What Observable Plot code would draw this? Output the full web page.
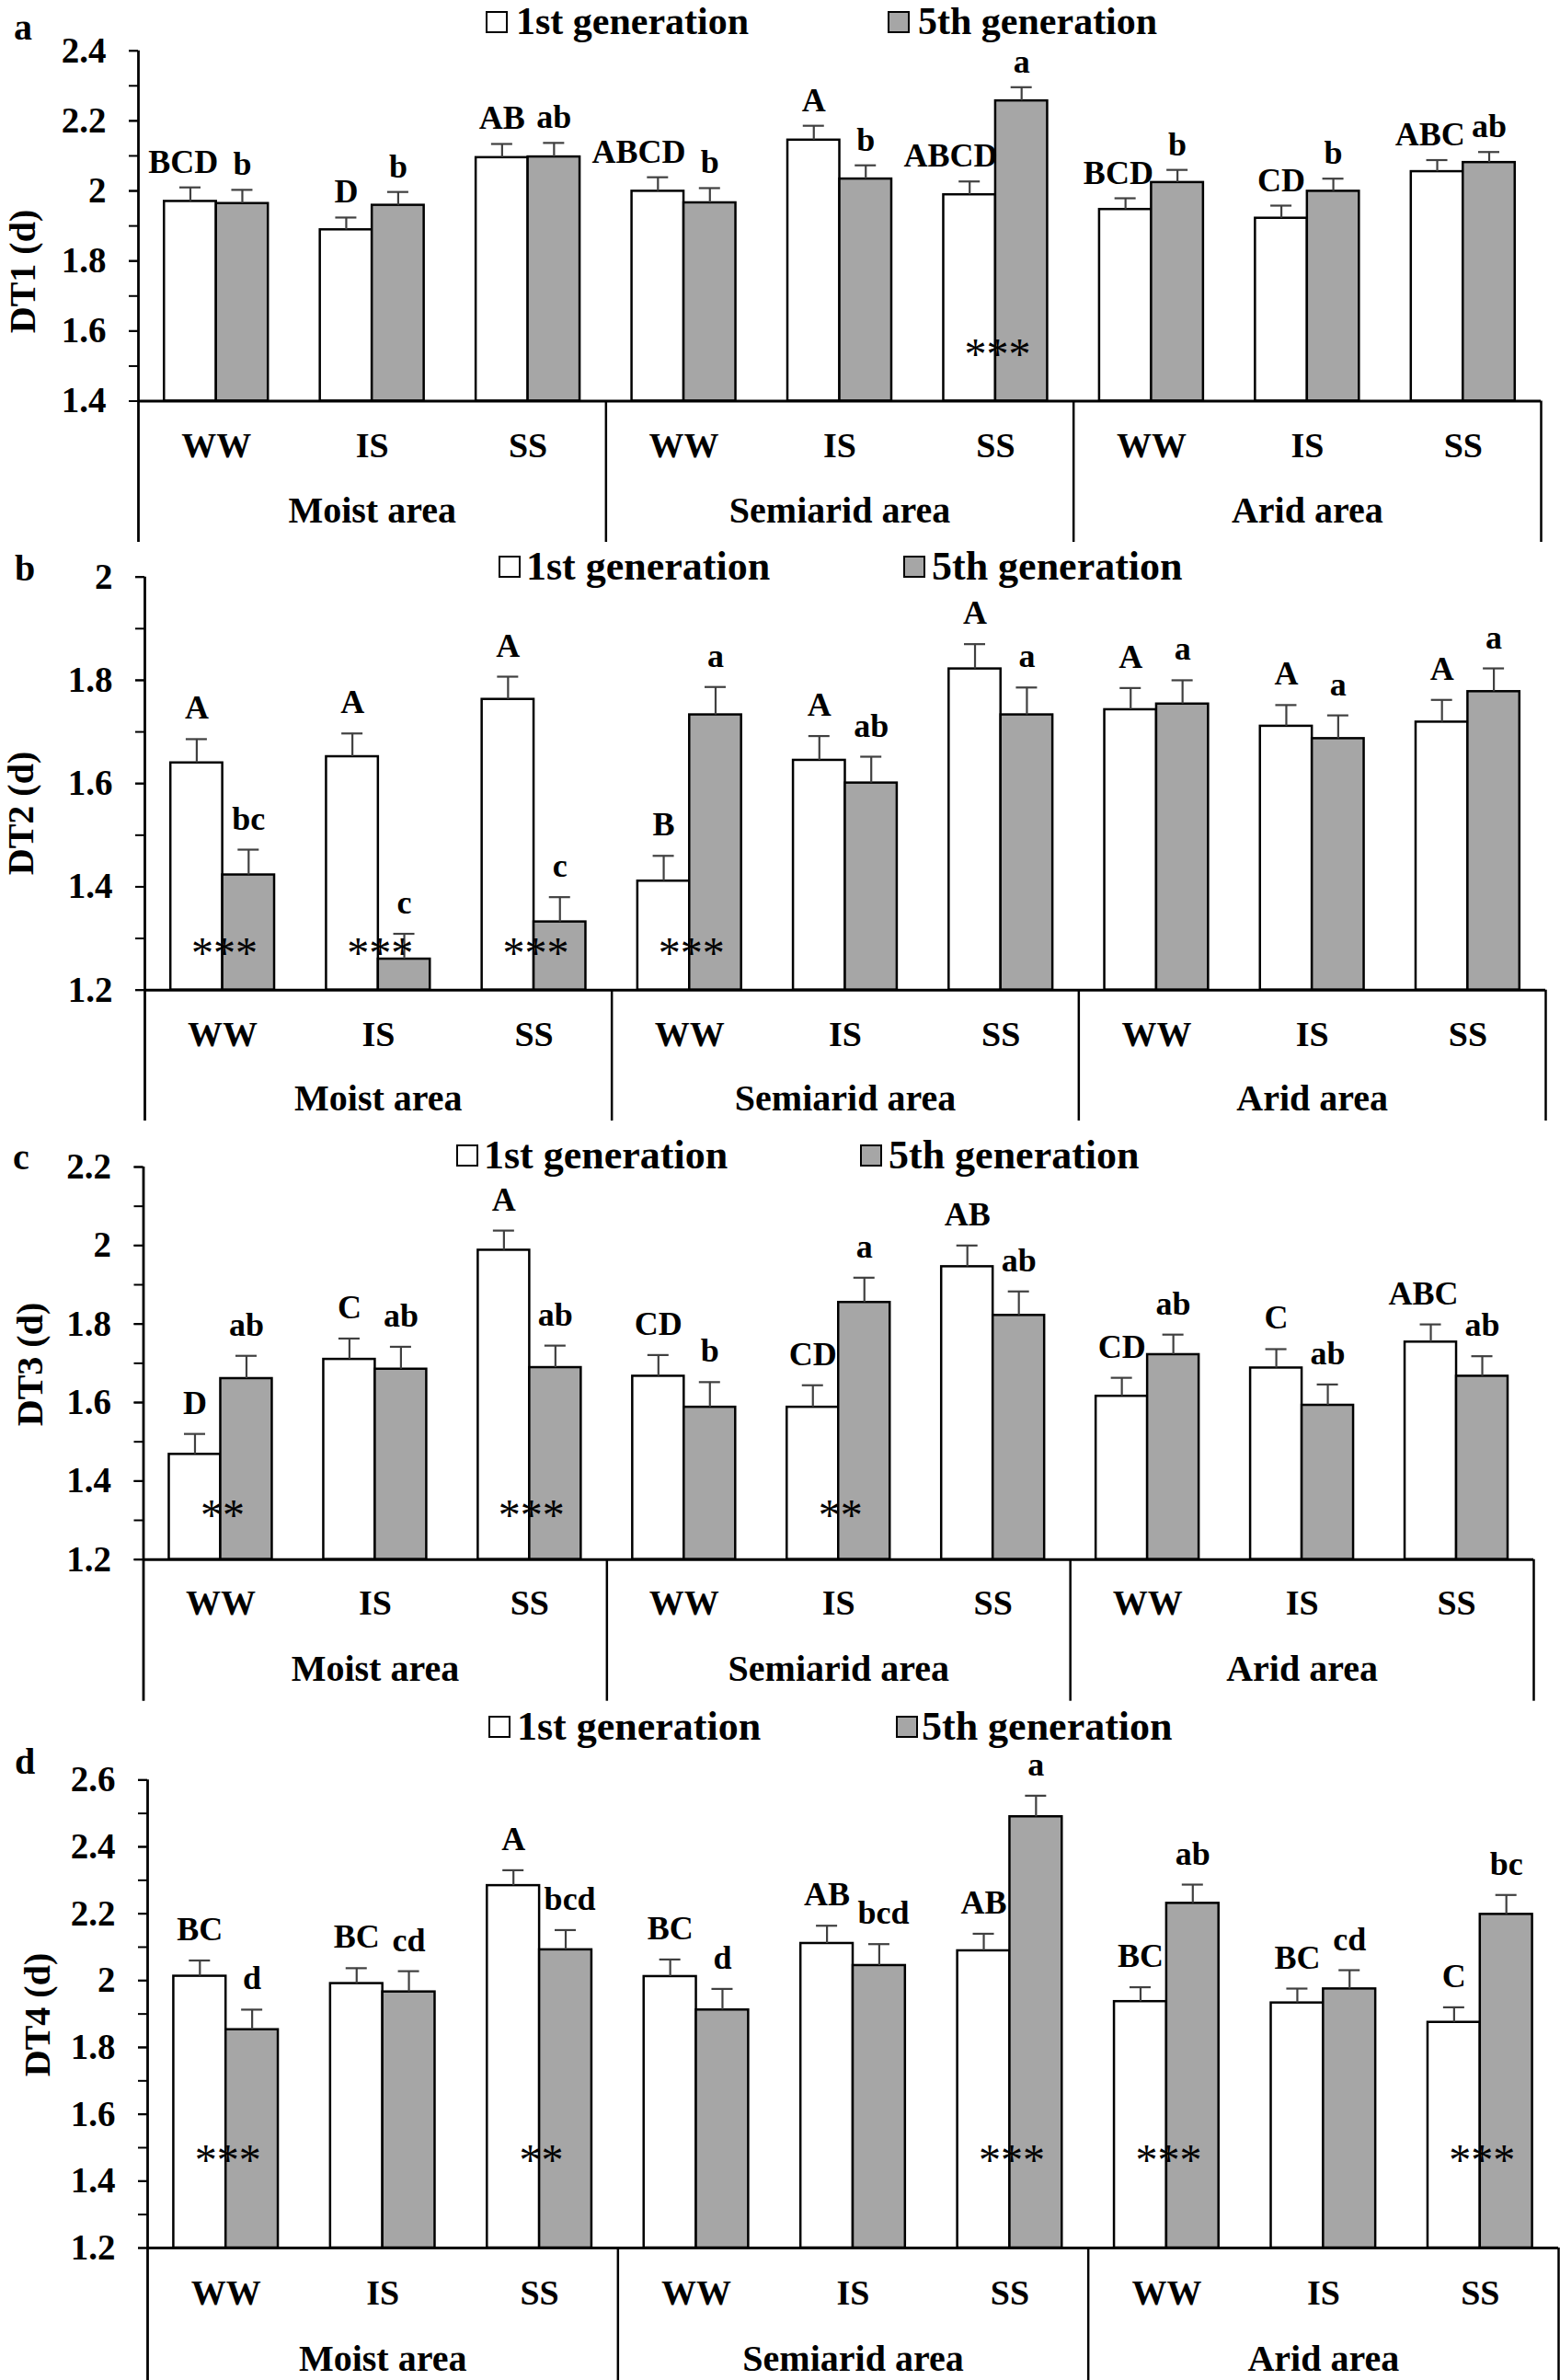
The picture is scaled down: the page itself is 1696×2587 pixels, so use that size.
<!DOCTYPE html>
<html>
<head>
<meta charset="utf-8">
<script src="https://cdn.jsdelivr.net/npm/d3@7"></script>
<script src="https://cdn.jsdelivr.net/npm/@observablehq/plot@0.6"></script>
<style>
html, body { margin: 0; padding: 0; background: #fff; }
#root { position: relative; width: 1696px; height: 2587px; overflow: hidden;
  font-family: 'Liberation Serif', 'Times New Roman', serif; font-weight: bold; color: #000; }
.panel { position: absolute; left: 0; width: 1696px; }
.panel svg { position: absolute; left: 0; top: 0; overflow: visible; }
.abs { position: absolute; white-space: nowrap; line-height: 0.75; }
.ytitle { position: absolute; white-space: nowrap; line-height: 0.75; transform-origin: 0 0;
  transform: rotate(-90deg) translate(-50%, -50%); }
.box { position: absolute; width: 24px; height: 24px; box-sizing: border-box; border: 2.5px solid #000; }
g[aria-label="stars"] text { letter-spacing: 4px; }
</style>
</head>
<body>
<div id="root"></div>
<script>
// ---------- categories ----------
const areas = ["Moist area", "Semiarid area", "Arid area"];
const treatments = ["WW", "IS", "SS"];
const generations = ["1st generation", "5th generation"];
const panelLetters = ["a", "b", "c", "d"];
const yTitles = ["DT1 (d)", "DT2 (d)", "DT3 (d)", "DT4 (d)"];
const yDomains = [[1.4, 2.4], [1.2, 2.0], [1.2, 2.2], [1.2, 2.6]];

// ---------- DT1 ----------
const dt1Gen1 = [1.970, 1.889, 2.095, 1.999, 2.145, 1.989, 1.947, 1.922, 2.055];
const dt1Gen1SE = [0.040, 0.035, 0.039, 0.040, 0.041, 0.038, 0.032, 0.036, 0.033];
const dt1Gen5 = [1.964, 1.959, 2.097, 1.966, 2.034, 2.257, 2.024, 1.999, 2.081];
const dt1Gen5SE = [0.039, 0.038, 0.040, 0.042, 0.039, 0.039, 0.036, 0.036, 0.030];
const dt1Let1 = ["BCD", "D", "AB", "ABCD", "A", "ABCD", "BCD", "CD", "ABC"];
const dt1Let5 = ["b", "b", "ab", "b", "b", "a", "b", "b", "ab"];
const dt1Stars = ["", "", "", "", "", "***", "", "", ""];

// ---------- DT2 ----------
const dt2Gen1 = [1.640, 1.652, 1.763, 1.411, 1.645, 1.822, 1.743, 1.711, 1.719];
const dt2Gen1SE = [0.046, 0.045, 0.044, 0.049, 0.047, 0.048, 0.042, 0.041, 0.043];
const dt2Gen5 = [1.423, 1.260, 1.332, 1.733, 1.601, 1.733, 1.754, 1.687, 1.778];
const dt2Gen5SE = [0.049, 0.049, 0.048, 0.054, 0.051, 0.053, 0.046, 0.045, 0.045];
const dt2Let1 = ["A", "A", "A", "B", "A", "A", "A", "A", "A"];
const dt2Let5 = ["bc", "c", "c", "a", "ab", "a", "a", "a", "a"];
const dt2Stars = ["***", "***", "***", "***", "", "", "", "", ""];

// ---------- DT3 ----------
const dt3Gen1 = [1.468, 1.710, 1.988, 1.667, 1.588, 1.946, 1.616, 1.688, 1.754];
const dt3Gen1SE = [0.052, 0.053, 0.050, 0.054, 0.056, 0.054, 0.047, 0.048, 0.045];
const dt3Gen5 = [1.661, 1.685, 1.689, 1.588, 1.855, 1.822, 1.722, 1.593, 1.667];
const dt3Gen5SE = [0.058, 0.057, 0.056, 0.064, 0.063, 0.061, 0.051, 0.053, 0.051];
const dt3Let1 = ["D", "C", "A", "CD", "CD", "AB", "CD", "C", "ABC"];
const dt3Let5 = ["ab", "ab", "ab", "b", "a", "ab", "ab", "ab", "ab"];
const dt3Stars = ["**", "", "***", "", "**", "", "", "", ""];

// ---------- DT4 ----------
const dt4Gen1 = [2.013, 1.991, 2.284, 2.012, 2.111, 2.089, 1.937, 1.933, 1.875];
const dt4Gen1SE = [0.047, 0.046, 0.046, 0.051, 0.053, 0.051, 0.043, 0.043, 0.045];
const dt4Gen5 = [1.853, 1.966, 2.092, 1.912, 2.045, 2.490, 2.231, 1.975, 2.198];
const dt4Gen5SE = [0.060, 0.062, 0.059, 0.063, 0.064, 0.063, 0.056, 0.056, 0.058];
const dt4Let1 = ["BC", "BC", "A", "BC", "AB", "AB", "BC", "BC", "C"];
const dt4Let5 = ["d", "cd", "bcd", "d", "bcd", "a", "ab", "cd", "bc"];
const dt4Stars = ["***", "", "**", "", "", "***", "***", "", "***"];

// ---------- assemble ----------
const panelsData = [
  {m1: dt1Gen1, s1: dt1Gen1SE, m5: dt1Gen5, s5: dt1Gen5SE, l1: dt1Let1, l5: dt1Let5, stars: dt1Stars},
  {m1: dt2Gen1, s1: dt2Gen1SE, m5: dt2Gen5, s5: dt2Gen5SE, l1: dt2Let1, l5: dt2Let5, stars: dt2Stars},
  {m1: dt3Gen1, s1: dt3Gen1SE, m5: dt3Gen5, s5: dt3Gen5SE, l1: dt3Let1, l5: dt3Let5, stars: dt3Stars},
  {m1: dt4Gen1, s1: dt4Gen1SE, m5: dt4Gen5, s5: dt4Gen5SE, l1: dt4Let1, l5: dt4Let5, stars: dt4Stars}
];

// layout (positions/styles only)
const layouts = [
  {top: 0, height: 590, mt: 54.7, mb: 154.5, ml: 150, mr: 21, ext: 153.5, treatDy: 49, areaDy: 119.5, starH: 59, letterGap: 16,
   titleX: 25, titleY: 295, letterX: 15, letterBase: 43, legBase: 37.8, legSize: 42, box1: 528, text1: 561, box5: 965, text5: 998},
  {top: 590, height: 630, mt: 36.7, mb: 144.3, ml: 157, mr: 16, ext: 142.3, treatDy: 49, areaDy: 118, starH: 48, letterGap: 22,
   titleX: 23, titleY: 884, letterX: 16, letterBase: 631, legBase: 630, legSize: 44, box1: 542, text1: 572, box5: 982, text5: 1013},
  {top: 1220, height: 632, mt: 48, mb: 157.3, ml: 155.5, mr: 29, ext: 154, treatDy: 47.7, areaDy: 119, starH: 56, letterGap: 22,
   titleX: 33, titleY: 1483, letterX: 14, letterBase: 1271, legBase: 1270, legSize: 44, box1: 496, text1: 526, box5: 935, text5: 966},
  {top: 1852, height: 735, mt: 82.3, mb: 144, ml: 160, mr: 2, ext: 144, treatDy: 49.7, areaDy: 121, starH: 103, letterGap: 22,
   titleX: 41, titleY: 2190, letterX: 16, letterBase: 1928, legBase: 1891, legSize: 44, box1: 531, text1: 562, box5: 974, text5: 1002}
];

const keys = areas.flatMap(a => treatments.map(t => a + "|" + t));
const root = document.getElementById("root");
const W = 1696;
const FONT = "'Liberation Serif', 'Times New Roman', serif";
const errColor = "#404040";
const grayFill = "#a6a6a6";
const LETTER_SIZE = 36;

function addText(txt, left, base, size) {
  const d = document.createElement("div");
  d.className = "abs";
  d.style.left = left + "px";
  d.style.top = (base - 0.7125 * size) + "px";
  d.style.fontSize = size + "px";
  d.textContent = txt;
  root.appendChild(d);
}
function addBox(left, base, fill) {
  const b = document.createElement("div");
  b.className = "box";
  b.style.left = left + "px";
  b.style.top = (base - 26) + "px";
  b.style.background = fill;
  root.appendChild(b);
}
function addTitle(txt, cx, cy, size) {
  const d = document.createElement("div");
  d.className = "ytitle";
  d.style.left = cx + "px";
  d.style.top = cy + "px";
  d.style.fontSize = size + "px";
  d.textContent = txt;
  root.appendChild(d);
}

panelsData.forEach((p, pi) => {
  const L = layouts[pi];
  const [lo, hi] = yDomains[pi];
  const bw = (W - L.ml - L.mr) / 9;
  const innerH = L.height - L.mt - L.mb;
  const rows = keys.map((k, i) => ({
    key: k, area: areas[Math.floor(i / 3)], treat: treatments[i % 3],
    m1: p.m1[i], s1: p.s1[i], m5: p.m5[i], s5: p.s5[i],
    l1: p.l1[i], l5: p.l5[i], star: p.stars[i]
  }));
  const majors = d3.ticks(lo, hi, Math.round((hi - lo) / 0.2));
  const minors = d3.ticks(lo, hi, Math.round((hi - lo) / 0.1));
  const fmt = d3.format("~g");
  const capInset = bw / 2 - 11.5;
  const letterStyle = {lineAnchor: "bottom", fontSize: LETTER_SIZE, fontWeight: "bold", fill: "#000", dy: -L.letterGap};
  const long = s => s.length >= 3;

  const chart = Plot.plot({
    width: W,
    height: L.height,
    marginTop: L.mt,
    marginBottom: L.mb,
    marginLeft: L.ml,
    marginRight: L.mr,
    style: {background: "transparent", fontFamily: FONT, fontWeight: "bold", fontSize: "36px", color: "#000", overflow: "visible"},
    x: {type: "band", domain: keys, padding: 0, round: false, axis: null},
    y: {domain: [lo, hi], round: false},
    marks: [
      // bars
      Plot.barY(rows, {x: "key", y1: () => lo, y2: "m1", fill: "#ffffff", stroke: "#000", strokeWidth: 2.5,
        insetLeft: bw / 6, insetRight: bw / 2}),
      Plot.barY(rows, {x: "key", y1: () => lo, y2: "m5", fill: grayFill, stroke: "#000", strokeWidth: 2.5,
        insetLeft: bw / 2, insetRight: bw / 6}),
      // error bars
      Plot.ruleX(rows, {x: "key", y1: "m1", y2: d => d.m1 + d.s1, dx: -bw / 6, stroke: errColor, strokeWidth: 2.2}),
      Plot.tickY(rows, {x: "key", y: d => d.m1 + d.s1, dx: -bw / 6, insetLeft: capInset, insetRight: capInset, stroke: errColor, strokeWidth: 2.2}),
      Plot.ruleX(rows, {x: "key", y1: "m5", y2: d => d.m5 + d.s5, dx: bw / 6, stroke: errColor, strokeWidth: 2.2}),
      Plot.tickY(rows, {x: "key", y: d => d.m5 + d.s5, dx: bw / 6, insetLeft: capInset, insetRight: capInset, stroke: errColor, strokeWidth: 2.2}),
      // significance letters: short ones centred on their bar, long ones kept on their own side of the pair
      Plot.text(rows.filter(r => !long(r.l1)), {x: "key", y: d => d.m1 + d.s1, text: "l1", dx: -bw / 6, ...letterStyle}),
      Plot.text(rows.filter(r => long(r.l1)), {x: "key", y: d => d.m1 + d.s1, text: "l1", dx: 2, textAnchor: "end", ...letterStyle}),
      Plot.text(rows.filter(r => !long(r.l5)), {x: "key", y: d => d.m5 + d.s5, text: "l5", dx: bw / 6, ...letterStyle}),
      Plot.text(rows.filter(r => long(r.l5)), {x: "key", y: d => d.m5 + d.s5, text: "l5", dx: 5, textAnchor: "start", ...letterStyle}),
      // stars
      Plot.text(rows.filter(r => r.star), {x: "key", text: "star", frameAnchor: "bottom", dx: 2, dy: -(L.starH - 8.4),
        lineAnchor: "middle", fontSize: 48, fontWeight: "normal", fill: "#000", ariaLabel: "stars"}),
      // y axis
      Plot.axisY(minors, {anchor: "left", tickSize: 10, tickFormat: () => "", stroke: "#000", strokeWidth: 2, label: null}),
      Plot.axisY(majors, {anchor: "left", tickSize: 10, tickPadding: 25, tickFormat: fmt, fontSize: 39, fontWeight: "bold", label: null, stroke: "#000", strokeWidth: 2}),
      Plot.ruleX(rows.slice(0, 1), {x: "key", dx: -bw / 2, insetBottom: -L.ext, stroke: "#000", strokeWidth: 2.8}),
      // baseline
      Plot.ruleY([lo], {stroke: "#000", strokeWidth: 3}),
      // category dividers below axis
      Plot.ruleX(rows.filter(r => r.treat === "WW" && r.area !== areas[0]), {x: "key", dx: -bw / 2, insetTop: innerH, insetBottom: -L.ext, stroke: "#000", strokeWidth: 2.5}),
      Plot.ruleX(rows.slice(-1), {x: "key", dx: bw / 2, insetTop: innerH, insetBottom: -L.ext, stroke: "#000", strokeWidth: 2.5}),
      // treatment labels
      Plot.text(rows, {x: "key", text: "treat", frameAnchor: "bottom", dy: L.treatDy, lineAnchor: "middle", fontSize: 38, fontWeight: "bold", fill: "#000"}),
      // area labels (centred under the middle group)
      Plot.text(rows.filter(r => r.treat === "IS"), {x: "key", text: "area", frameAnchor: "bottom", dy: L.areaDy, lineAnchor: "middle", fontSize: 40, fontWeight: "bold", fill: "#000"})
    ]
  });

  const wrap = document.createElement("div");
  wrap.className = "panel";
  wrap.style.top = L.top + "px";
  wrap.style.height = L.height + "px";
  wrap.appendChild(chart);
  root.appendChild(wrap);

  // y-axis title, panel letter, legend
  addTitle(yTitles[pi], L.titleX, L.titleY, 40);
  addText(panelLetters[pi], L.letterX, L.letterBase, 40);
  addBox(L.box1, L.legBase, "#ffffff");
  addText(generations[0], L.text1, L.legBase, L.legSize);
  addBox(L.box5, L.legBase, grayFill);
  addText(generations[1], L.text5, L.legBase, L.legSize);
});
</script>
</body>
</html>
